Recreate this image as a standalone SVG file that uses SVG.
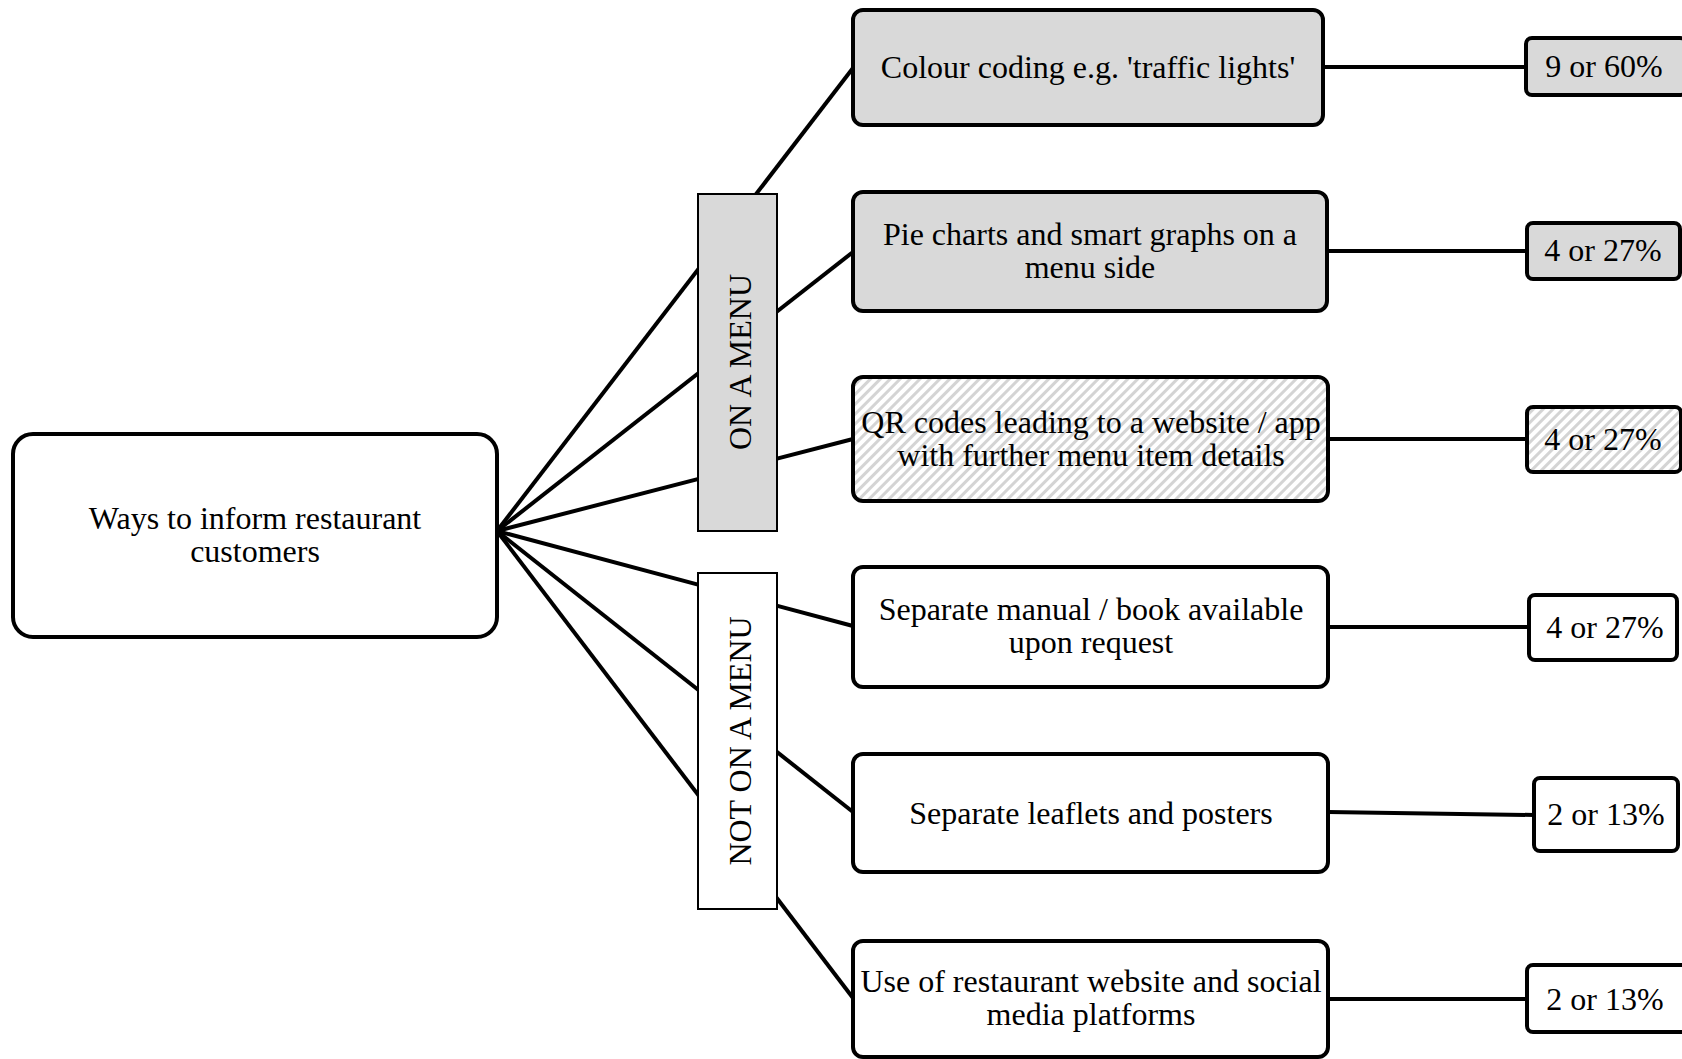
<svg xmlns="http://www.w3.org/2000/svg" width="1682" height="1059" viewBox="0 0 1682 1059">
<defs>
<pattern id="hatch" patternUnits="userSpaceOnUse" width="7" height="7" patternTransform="rotate(45)">
<rect width="7" height="7" fill="#ffffff"/>
<rect x="0" y="0" width="3" height="7" fill="#d4d4d4"/>
</pattern>
<style>
text{font-family:"Liberation Serif","Times New Roman",serif;font-size:32px;fill:#000;text-anchor:middle}
.box{stroke:#000;stroke-width:4}
.cat{stroke:#000;stroke-width:2}
.conn line{stroke:#000;stroke-width:4}
.grey{fill:#d9d9d9}
.white{fill:#ffffff}
.hatch{fill:url(#hatch)}
</style>
</defs>
<rect width="1682" height="1059" fill="#ffffff"/>
<g class="conn" id="connectors">
<line x1="497" y1="531" x2="853" y2="68"/>
<line x1="497" y1="531" x2="853" y2="252"/>
<line x1="497" y1="531" x2="853" y2="439"/>
<line x1="497" y1="531" x2="853" y2="626"/>
<line x1="497" y1="531" x2="853" y2="812"/>
<line x1="497" y1="531" x2="853" y2="998"/>
<line x1="1323" y1="67" x2="1526" y2="67"/>
<line x1="1327" y1="251" x2="1527" y2="251"/>
<line x1="1328" y1="439" x2="1527" y2="439"/>
<line x1="1328" y1="627" x2="1529" y2="627"/>
<line x1="1328" y1="812" x2="1534" y2="815"/>
<line x1="1328" y1="999" x2="1527" y2="999"/>
</g>
<g id="root">
<rect class="box white" x="13" y="434" width="484" height="203" rx="20"/>
<text x="255" y="529">Ways to inform restaurant</text>
<text x="255" y="562">customers</text>
</g>
<g id="cat-on">
<rect class="cat grey" x="698" y="194" width="79" height="337"/>
<text transform="translate(751,362) rotate(-90)">ON A MENU</text>
</g>
<g id="cat-not">
<rect class="cat white" x="698" y="573" width="79" height="336"/>
<text transform="translate(751,741) rotate(-90)">NOT ON A MENU</text>
</g>
<g id="m1">
<rect class="box grey" x="853" y="10" width="470" height="115" rx="10"/>
<text x="1088" y="78">Colour coding e.g. 'traffic lights'</text>
</g>
<g id="m2">
<rect class="box grey" x="853" y="192" width="474" height="119" rx="10"/>
<text x="1090" y="245">Pie charts and smart graphs on a</text>
<text x="1090" y="278">menu side</text>
</g>
<g id="m3">
<rect class="box hatch" x="853" y="377" width="475" height="124" rx="10"/>
<text x="1091" y="433">QR codes leading to a website / app</text>
<text x="1091" y="466">with further menu item details</text>
</g>
<g id="m4">
<rect class="box white" x="853" y="567" width="475" height="120" rx="10"/>
<text x="1091" y="620">Separate manual / book available</text>
<text x="1091" y="653">upon request</text>
</g>
<g id="m5">
<rect class="box white" x="853" y="754" width="475" height="118" rx="10"/>
<text x="1091" y="824">Separate leaflets and posters</text>
</g>
<g id="m6">
<rect class="box white" x="853" y="941" width="475" height="116" rx="10"/>
<text x="1091" y="992">Use of restaurant website and social</text>
<text x="1091" y="1025">media platforms</text>
</g>
<g id="r1">
<rect class="box grey" x="1526" y="38" width="160" height="57" rx="6"/>
<text x="1604" y="77">9 or 60%</text>
</g>
<g id="r2">
<rect class="box grey" x="1527" y="223" width="153" height="56" rx="6"/>
<text x="1603" y="261">4 or 27%</text>
</g>
<g id="r3">
<rect class="box hatch" x="1527" y="407" width="154" height="65" rx="6"/>
<text x="1603" y="450">4 or 27%</text>
</g>
<g id="r4">
<rect class="box white" x="1529" y="595" width="148" height="65" rx="6"/>
<text x="1605" y="638">4 or 27%</text>
</g>
<g id="r5">
<rect class="box white" x="1534" y="778" width="144" height="73" rx="6"/>
<text x="1606" y="825">2 or 13%</text>
</g>
<g id="r6">
<rect class="box white" x="1527" y="965" width="160" height="67" rx="6"/>
<text x="1605" y="1010">2 or 13%</text>
</g>
</svg>
